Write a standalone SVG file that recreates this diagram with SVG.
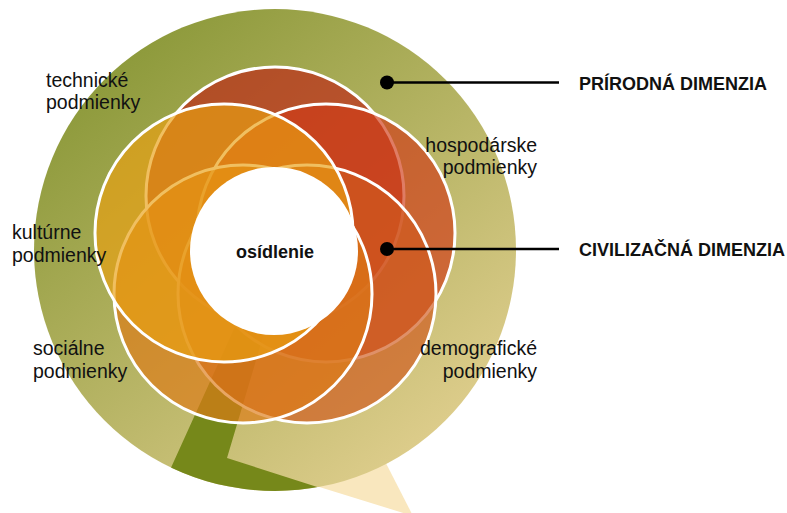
<svg xmlns="http://www.w3.org/2000/svg" width="787" height="513" viewBox="0 0 787 513">
<style>
.lbl{font-family:"Liberation Sans",Arial,sans-serif;font-size:19.5px;fill:#111}
.dim{font-family:"Liberation Sans",Arial,sans-serif;font-size:18px;font-weight:bold;fill:#111}
.ctr{font-family:"Liberation Sans",Arial,sans-serif;font-size:18px;font-weight:bold;fill:#111}
.petal{stroke:#fff;stroke-width:3;fill-opacity:0.67}
.conn{stroke:#000;stroke-width:2.5;fill:none}
</style>
<defs>
<linearGradient id="ringGrad" gradientUnits="userSpaceOnUse" x1="100" y1="50" x2="430" y2="450">
<stop offset="0" stop-color="#8a9838"/>
<stop offset="1" stop-color="#decd8c"/>
</linearGradient>
<clipPath id="discClip"><circle cx="275" cy="250" r="241"/></clipPath>
</defs>
<rect width="787" height="513" fill="#fff"/>
<g id="background">
<polygon points="300,481 370,432 413,516" fill="#f9e7be"/>
<circle cx="275" cy="250" r="241" fill="url(#ringGrad)"/>
<polygon points="145,525 238,320 268,320 227,458 420,520 420,525" fill="#76881a" clip-path="url(#discClip)"/>
</g>
<g id="petals">
<circle id="petal-top" class="petal" cx="275" cy="196" r="129" fill="#be2617"/>
<circle id="petal-upper-right" class="petal" cx="326" cy="233" r="129" fill="#d03c18"/>
<circle id="petal-lower-right" class="petal" cx="307" cy="294" r="129" fill="#d05a1e"/>
<circle id="petal-lower-left" class="petal" cx="243" cy="294" r="129" fill="#dc7a16"/>
<circle id="petal-upper-left" class="petal" cx="224" cy="233" r="129" fill="#e8a012"/>
</g>
<g id="center">
<circle cx="274" cy="251" r="84" fill="#fff"/>
<text class="ctr" x="275" y="258" text-anchor="middle">osídlenie</text>
</g>
<g id="label-technicke">
<text class="lbl" x="46" y="87">technické</text>
<text class="lbl" x="46" y="109">podmienky</text>
</g>
<g id="label-hospodarske">
<text class="lbl" x="537" y="152" text-anchor="end">hospodárske</text>
<text class="lbl" x="537" y="174" text-anchor="end">podmienky</text>
</g>
<g id="label-kulturne">
<text class="lbl" x="12" y="239">kultúrne</text>
<text class="lbl" x="12" y="262">podmienky</text>
</g>
<g id="label-socialne">
<text class="lbl" x="33" y="355">sociálne</text>
<text class="lbl" x="33" y="378">podmienky</text>
</g>
<g id="label-demograficke">
<text class="lbl" x="537" y="355" text-anchor="end">demografické</text>
<text class="lbl" x="537" y="378" text-anchor="end">podmienky</text>
</g>
<g id="label-prirodna">
<text class="dim" x="579" y="90">PRÍRODNÁ DIMENZIA</text>
</g>
<g id="label-civilizacna">
<text class="dim" x="579" y="256">CIVILIZAČNÁ DIMENZIA</text>
</g>
<g id="connectors">
<line class="conn" x1="387" y1="82.5" x2="559" y2="82.5"/>
<circle cx="387" cy="82.5" r="7" fill="#000"/>
<line class="conn" x1="387" y1="249" x2="559" y2="249"/>
<circle cx="387" cy="249" r="7" fill="#000"/>
</g>
</svg>
